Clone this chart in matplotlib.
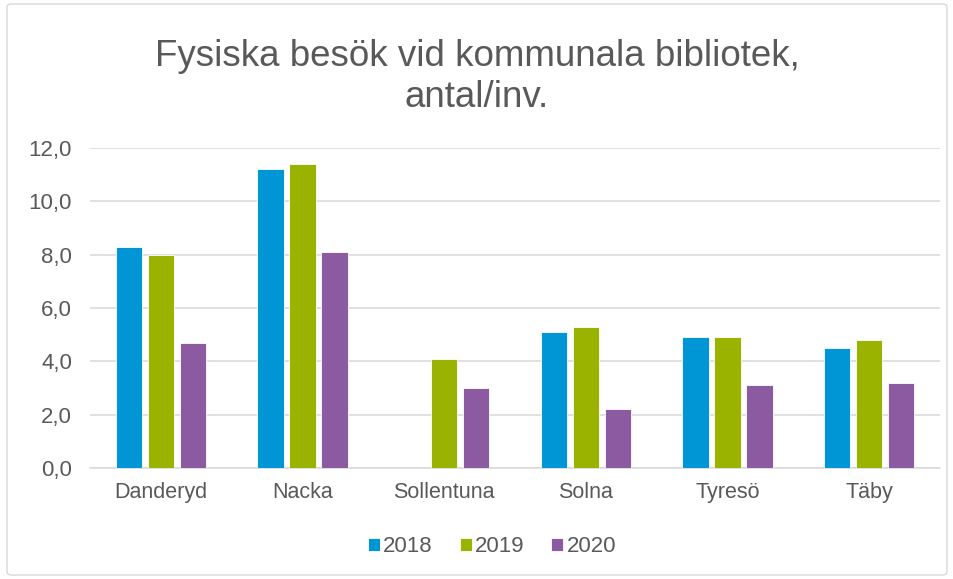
import numpy as np
import matplotlib
matplotlib.use("Agg")
import matplotlib.pyplot as plt
from matplotlib.patches import FancyBboxPatch

categories = ["Danderyd", "Nacka", "Sollentuna", "Solna", "Tyresö", "Täby"]
years = ["2018", "2019", "2020"]
v2018 = [8.3, 11.2, np.nan, 5.1, 4.9, 4.5]
v2019 = [8.0, 11.4, 4.1, 5.3, 4.9, 4.8]
v2020 = [4.7, 8.1, 3.0, 2.2, 3.1, 3.2]
yticks = [0, 2, 4, 6, 8, 10, 12]
ytick_labels = ["0,0", "2,0", "4,0", "6,0", "8,0", "10,0", "12,0"]
title = "Fysiska besök vid kommunala bibliotek,\nantal/inv."

colors = ["#0096D6", "#99B300", "#8C5AA0"]
plt.rcParams['font.family'] = ['Liberation Sans', 'DejaVu Sans']
txt = "#595959"

fig = plt.figure(figsize=(9.54, 5.79), dpi=100)
fig.patch.set_facecolor("white")
border = FancyBboxPatch((7/954, 4/579), 940/954, 571/579,
                        boxstyle="round,pad=0,rounding_size=0.005",
                        transform=fig.transFigure, fill=False,
                        edgecolor="#D9D9D9", linewidth=1.0)
fig.patches.append(border)

ax = fig.add_axes([90/954, 1 - 468/579, 850/954, 320/579])
x = np.arange(len(categories))
w = 0.185
step = 0.226
for i, (vals, c, yr) in enumerate(zip([v2018, v2019, v2020], colors, years)):
    ax.bar(x + (i - 1) * step, vals, width=w, color=c, label=yr,
           edgecolor="white", linewidth=0.6, zorder=3)

ax.set_xlim(-0.5, len(categories) - 0.5)
ax.set_ylim(0, 12)
ax.set_yticks(yticks)
ax.set_yticklabels(ytick_labels)
ax.set_xticks(x)
ax.set_xticklabels(categories)
ax.grid(axis="y", color="#D9D9D9", linewidth=1.1, zorder=0)
for s in ["top", "right", "left"]:
    ax.spines[s].set_visible(False)
ax.spines["bottom"].set_color("#D9D9D9")
ax.spines["bottom"].set_linewidth(1.1)
ax.tick_params(axis="y", length=0, labelsize=16, colors=txt, pad=13)
ax.tick_params(axis="x", length=0, labelsize=15.5, colors=txt, pad=10)

fig.text(0.5, 1 - 77/579, title, ha="center", va="center", fontsize=26.5,
         color=txt, linespacing=1.2)

leg = fig.legend(loc="center", bbox_to_anchor=(492/954, 1 - 547/579), ncol=3,
                 frameon=False, fontsize=16, handlelength=0.55, handleheight=0.55,
                 handletextpad=0.15, columnspacing=1.2)
for t in leg.get_texts():
    t.set_color(txt)

fig.savefig("out.png", dpi=100)
